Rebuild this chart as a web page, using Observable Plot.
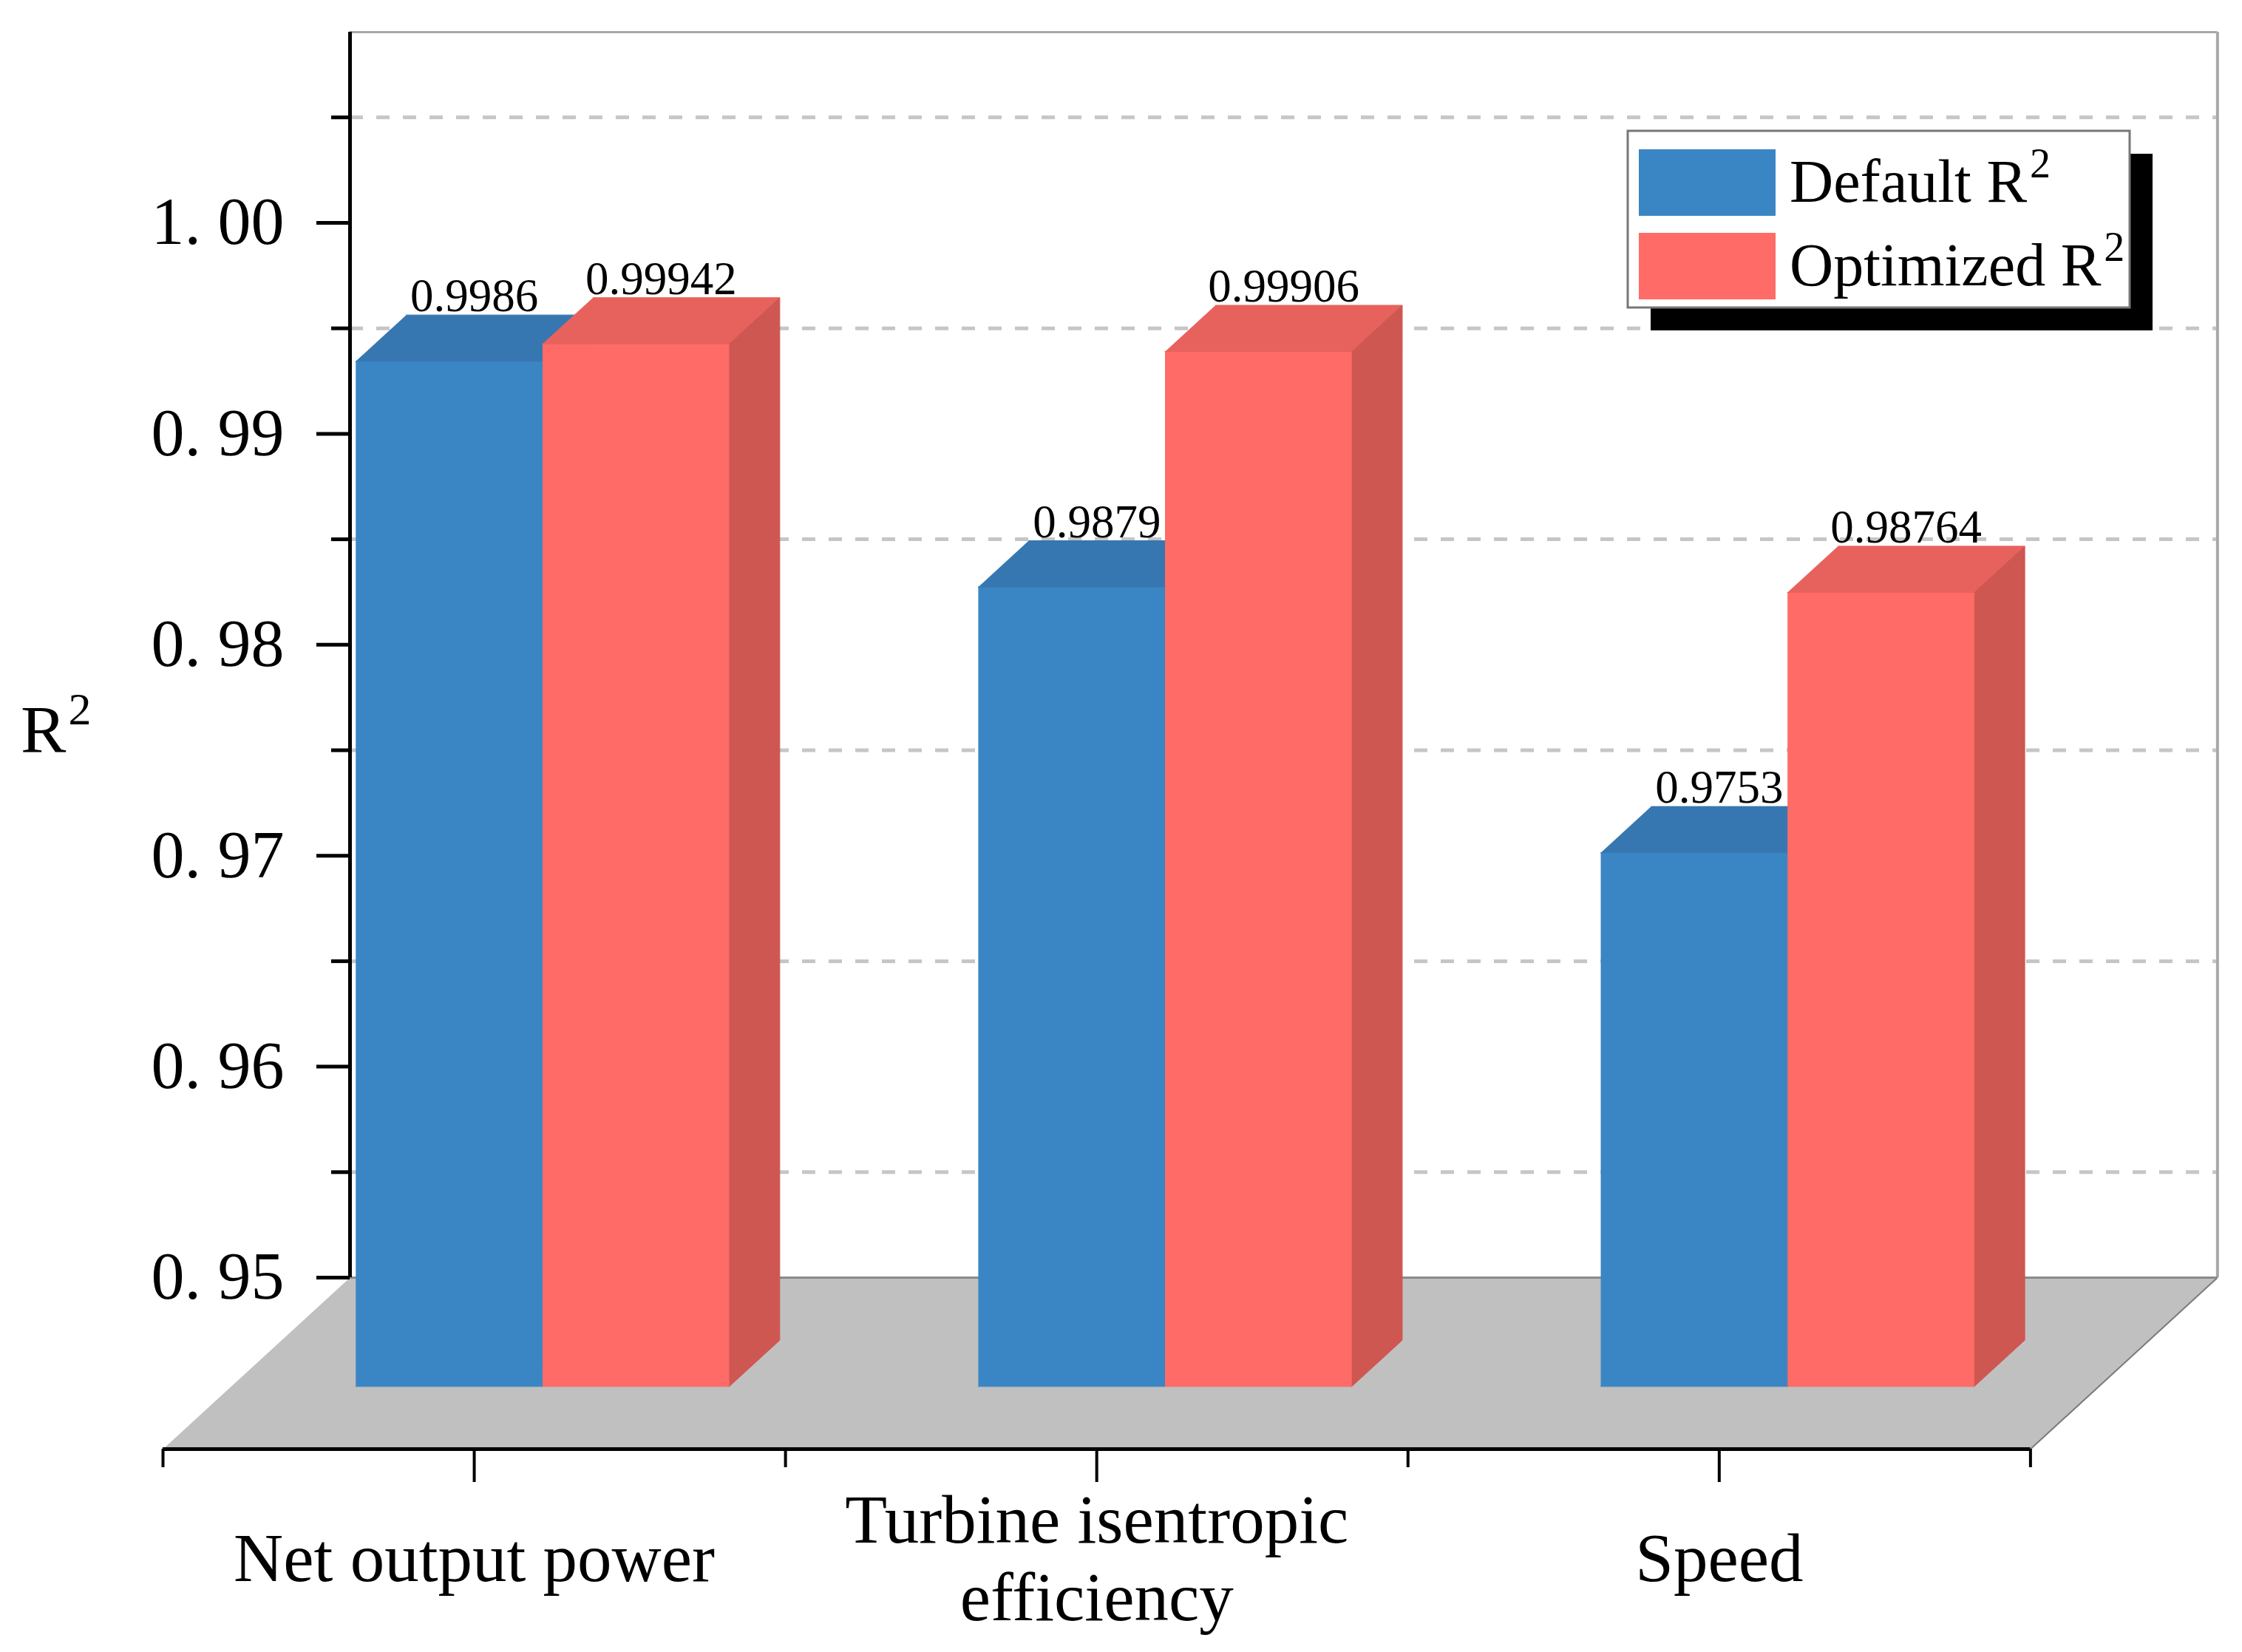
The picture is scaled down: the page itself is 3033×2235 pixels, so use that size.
<!DOCTYPE html>
<html>
<head>
<meta charset="utf-8">
<script src="https://cdn.jsdelivr.net/npm/d3@7"></script>
<script src="https://cdn.jsdelivr.net/npm/@observablehq/plot@0.6"></script>
<style>
  html, body { margin: 0; padding: 0; background: #ffffff; }
  #wrap { position: relative; width: 3033px; height: 2235px; overflow: hidden; }
  #legend { position: absolute; left: 0; top: 0; pointer-events: none; }
</style>
</head>
<body>
<div id="wrap"></div>
<script>
// ---------------- data ----------------
const categories = ["Net output power", "Turbine isentropic\nefficiency", "Speed"];
const defaultR2 = [0.9986, 0.9879, 0.9753];
const optimizedR2 = [0.99942, 0.99906, 0.98764];
const seriesNames = ["Default R²", "Optimized R²"];
const majorTicks = [0.95, 0.96, 0.97, 0.98, 0.99, 1.00];
const minorTicks = [0.955, 0.965, 0.975, 0.985, 0.995, 1.005];
const yAxisTitle = "R²";

// ---------------- layout / style ----------------
const W = 3033, H = 2235;
const mL = 220, mR = 34, mT = 43, mB = 275;
const xDomain = [-0.5, 2.8];
const pxPerX = (W - mL - mR) / (xDomain[1] - xDomain[0]);
const pxPerY = 28540;
const yBase = 0.95;
const Dx = 253 / pxPerX;          // floor depth (x)
const Dy = 232 / pxPerY;          // floor depth (y)
const yBot = yBase - Dy;
const yTop = yBot + (H - mT - mB) / pxPerY;
const barW = 0.3, d0 = 0.365, d1 = 0.635;
const colors = {
  front: ["#3a86c4", "#ff6b66"],
  top:   ["#3777b1", "#e8625d"],
  side:  ["#336ea5", "#cf5752"]
};
const font = "'Liberation Serif', 'Times New Roman', serif";

const proj = (u, v, d) => ({x: u + d * Dx, y: v - (1 - d) * Dy});
const axX = -0.5 + Dx;

// ---------------- geometry built from data ----------------
const bars = [];
categories.forEach((c, i) => {
  [defaultR2[i], optimizedR2[i]].forEach((v, s) => bars.push({i, s, v, u0: i - barW + s * barW}));
});
const faces = [];
bars.forEach((b, k) => {
  const u0 = b.u0, u1 = b.u0 + barW, v = b.v;
  const add = (kind, pts) => pts.forEach((p, j) => faces.push({id: kind + k, kind, s: b.s, x: p.x, y: p.y, j}));
  add("front", [proj(u0, yBase, d0), proj(u1, yBase, d0), proj(u1, v, d0), proj(u0, v, d0)]);
  add("top",   [proj(u0, v, d0), proj(u1, v, d0), proj(u1, v, d1), proj(u0, v, d1)]);
  add("side",  [proj(u1, yBase, d0), proj(u1, yBase, d1), proj(u1, v, d1), proj(u1, v, d0)]);
});
const floor = [proj(-0.5, yBase, 0), proj(2.5, yBase, 0), proj(2.5, yBase, 1), proj(-0.5, yBase, 1)];

const faceMarks = [];
for (const s of [0, 1]) {
  for (const kind of ["front", "top", "side"]) {
    const col = colors[kind][s];
    faceMarks.push(Plot.line(faces.filter(f => f.s === s && f.kind === kind),
      {x: "x", y: "y", z: "id", fill: col, stroke: col, strokeWidth: 1, strokeLinejoin: "miter"}));
  }
}

const chart = Plot.plot({
  width: W, height: H,
  marginLeft: mL, marginRight: mR, marginTop: mT, marginBottom: mB,
  x: {domain: xDomain, axis: null},
  y: {domain: [yBot, yTop], axis: null},
  style: {background: "#ffffff", fontFamily: font, color: "#000"},
  marks: [
    // back wall gridlines
    Plot.ruleY(minorTicks, {x1: axX, x2: 2.5 + Dx, stroke: "#c6c6c6", strokeWidth: 5, strokeDasharray: "18,18"}),
    // back wall frame
    Plot.ruleY([yTop], {x1: axX, x2: 2.5 + Dx, stroke: "#a8a8a8", strokeWidth: 3}),
    Plot.ruleX([2.5 + Dx], {y1: yBase, y2: yTop, stroke: "#a8a8a8", strokeWidth: 4}),
    // floor
    Plot.line(floor, {x: "x", y: "y", fill: "#c0c0c0", stroke: "#7a7a7a", strokeWidth: 2, strokeLinejoin: "miter"}),
    Plot.ruleY([yBase], {x1: axX, x2: 2.5 + Dx, stroke: "#8a8a8a", strokeWidth: 3}),
    // y axis
    Plot.ruleX([axX], {y1: yBase, y2: yTop, stroke: "#000", strokeWidth: 5}),
    Plot.ruleY(majorTicks, {x1: axX - 45 / pxPerX, x2: axX, stroke: "#000", strokeWidth: 5}),
    Plot.ruleY(minorTicks, {x1: axX - 25 / pxPerX, x2: axX, stroke: "#000", strokeWidth: 5}),
    Plot.text(majorTicks, {x: axX, y: d => d, text: d => d.toFixed(2).replace(".", ". "),
      dx: -89, textAnchor: "end", fontSize: 90, fill: "#000"}),
    // bars
    ...faceMarks,
    // value labels
    Plot.text(bars, {x: b => b.u0 + barW / 2 + 0.5 * Dx, y: b => b.v - (1 - d1) * Dy, text: b => String(b.v),
      dy: -5, lineAnchor: "bottom", textAnchor: "middle", fontSize: 63, fill: "#000"}),
    // x axis
    Plot.ruleY([yBot], {x1: -0.5, x2: 2.5, stroke: "#000", strokeWidth: 5}),
    Plot.ruleX(categories.map((c, i) => i), {y1: yBot, y2: yBot - 45 / pxPerY, stroke: "#000", strokeWidth: 4}),
    Plot.ruleX(categories.map((c, i) => i - 0.5).concat([categories.length - 0.5]),
      {y1: yBot, y2: yBot - 25 / pxPerY, stroke: "#000", strokeWidth: 4}),
    Plot.text(categories, {x: (c, i) => i, y: yBot, text: d => d, dy: 145, lineAnchor: "middle",
      lineHeight: 1.13, textAnchor: "middle", fontSize: 93, fill: "#000"})
  ]
});
document.getElementById("wrap").appendChild(chart);

// y-axis title with a true superscript
const ttl = d3.select(chart).append("text").attr("x", 28).attr("y", 1018)
  .attr("text-anchor", "start")
  .attr("font-family", font).attr("font-size", 92).attr("fill", "#000");
ttl.append("tspan").text(yAxisTitle.replace("²", ""));
ttl.append("tspan").attr("dx", 3).attr("dy", -38).attr("font-size", 62).text("2");

// ---------------- legend overlay ----------------
const lg = d3.select("#wrap").append("svg").attr("id", "legend").attr("width", W).attr("height", H);
const bx = 2202, by = 177, bw = 679, bh = 239;
lg.append("rect").attr("x", bx + 31).attr("y", by + 31).attr("width", bw).attr("height", bh).attr("fill", "#000");
lg.append("rect").attr("x", bx).attr("y", by).attr("width", bw).attr("height", bh)
  .attr("fill", "#fff").attr("stroke", "#777").attr("stroke-width", 3);
seriesNames.forEach((name, s) => {
  const top = by + 25 + s * 113;
  lg.append("rect").attr("x", bx + 15).attr("y", top).attr("width", 185).attr("height", 90).attr("fill", colors.front[s]);
  const t = lg.append("text").attr("x", bx + 219).attr("y", top + 71).attr("text-anchor", "start")
    .attr("font-family", font).attr("font-size", 82).attr("fill", "#000");
  t.append("tspan").text(name.replace("²", ""));
  t.append("tspan").attr("dx", 4).attr("dy", -33).attr("font-size", 56).text("2");
});
</script>
</body>
</html>
